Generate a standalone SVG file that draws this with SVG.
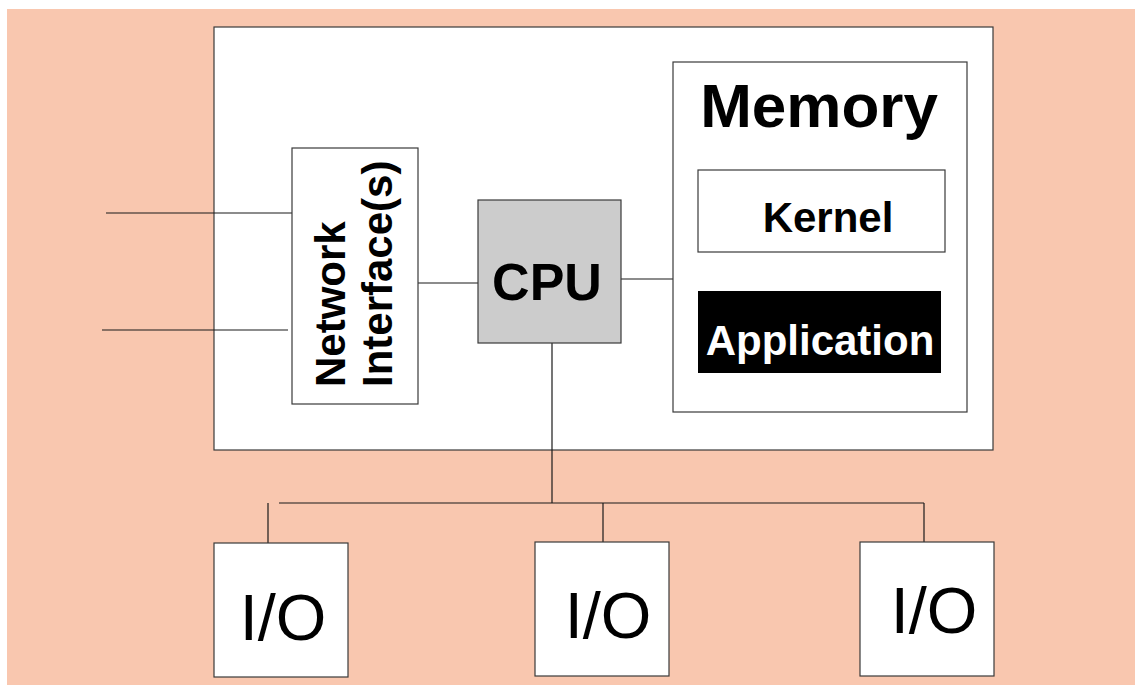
<svg xmlns="http://www.w3.org/2000/svg" width="1135" height="686" viewBox="0 0 1135 686">
  <style>
    .box { fill: #ffffff; stroke: #3a3a3a; stroke-width: 1.2; }
    .wire { stroke: #1a1a1a; stroke-width: 1.2; fill: none; }
    .bold { font-family: "Liberation Sans", Arial, sans-serif; font-weight: bold; fill: #000000; }
    .io { font-family: "Liberation Sans", Arial, sans-serif; font-size: 65px; fill: #000000; text-anchor: middle; }
  </style>

  <!-- page background -->
  <rect x="0" y="0" width="1135" height="686" fill="#ffffff"/>
  <rect x="7" y="9" width="1128" height="676" fill="#f9c7af"/>

  <!-- host enclosure -->
  <g id="host">
    <rect class="box" x="214" y="27" width="779" height="423"/>
  </g>

  <!-- connectors -->
  <g id="connectors">
    <line class="wire" x1="106" y1="213" x2="292" y2="213"/>
    <line class="wire" x1="102" y1="330" x2="288" y2="330"/>
    <line class="wire" x1="418" y1="283" x2="478" y2="283"/>
    <line class="wire" x1="621" y1="279" x2="677" y2="279"/>
    <line class="wire" x1="552" y1="343" x2="552" y2="503"/>
    <line class="wire" x1="279" y1="503" x2="924" y2="503"/>
    <line class="wire" x1="268" y1="503" x2="268" y2="543"/>
    <line class="wire" x1="603" y1="503" x2="603" y2="542"/>
    <line class="wire" x1="924" y1="503" x2="924" y2="542"/>
  </g>

  <g id="network-interface">
    <rect class="box" x="292" y="148" width="126" height="256"/>
    <text class="bold" font-size="42" transform="translate(345,387) rotate(-90)">Network</text>
    <text class="bold" font-size="42" transform="translate(392,387) rotate(-90)">Interface(s)</text>
  </g>

  <g id="cpu">
    <rect x="478" y="200" width="143" height="143" fill="#cccccc" stroke="#3a3a3a" stroke-width="1.2"/>
    <text class="bold" font-size="52" x="547" y="300" text-anchor="middle">CPU</text>
  </g>

  <g id="memory">
    <rect class="box" x="673" y="62" width="294" height="350"/>
    <text class="bold" font-size="62" x="819" y="127" text-anchor="middle">Memory</text>
  </g>

  <g id="kernel">
    <rect class="box" x="698" y="170" width="247" height="82"/>
    <text class="bold" font-size="42" x="828" y="232" text-anchor="middle">Kernel</text>
  </g>

  <g id="application">
    <rect x="698" y="291" width="243" height="82" fill="#000000"/>
    <text class="bold" font-size="42" x="820" y="355" text-anchor="middle" fill="#ffffff" style="fill:#ffffff">Application</text>
  </g>

  <g id="io-1">
    <rect class="box" x="214" y="543" width="134" height="134"/>
    <text class="io" x="283" y="640">I/O</text>
  </g>

  <g id="io-2">
    <rect class="box" x="535" y="542" width="134" height="134"/>
    <text class="io" x="608" y="638">I/O</text>
  </g>

  <g id="io-3">
    <rect class="box" x="860" y="542" width="134" height="134"/>
    <text class="io" x="934" y="633">I/O</text>
  </g>
</svg>
